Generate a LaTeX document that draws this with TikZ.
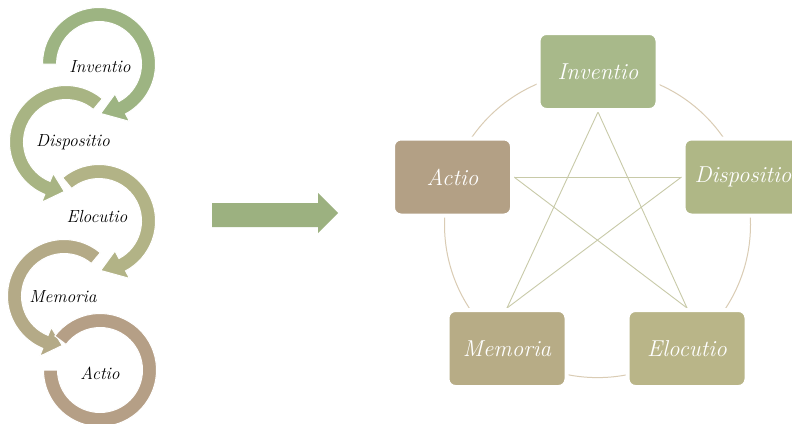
\documentclass[tikz,border=0pt]{standalone}
\usepackage{fontspec}
\setmainfont{Latin Modern Roman}
\usetikzlibrary{calc}
\pgfdeclarelayer{bg}
\pgfsetlayers{bg,main}
\definecolor{cInv}{HTML}{A8B98A}
\definecolor{cDis}{HTML}{AFB786}
\definecolor{cElo}{HTML}{B9B588}
\definecolor{cMem}{HTML}{B7AC86}
\definecolor{cAct}{HTML}{B3A085}
\definecolor{rInv}{HTML}{9DB482}
\definecolor{rDis}{HTML}{A8B483}
\definecolor{rElo}{HTML}{B2B386}
\definecolor{rMem}{HTML}{B4AA87}
\definecolor{rAct}{HTML}{B59F86}
\definecolor{cArrow}{HTML}{9CB180}
\definecolor{cCirc}{HTML}{DACCB4}
\definecolor{cStar}{HTML}{C8CAA8}
\newcommand\ringarrow[6]{% cx, cy, start, base, tip, colour
  \fill[#6, draw=white, line width=1pt]
    ([shift={(#1pt,#2pt)}]#3:56.5pt) arc[start angle=#3, end angle=#4, radius=56.5pt]
    -- ([shift={(#1pt,#2pt)}]#4:65pt)
    -- ([shift={(#1pt,#2pt)}]#5:49.5pt)
    -- ([shift={(#1pt,#2pt)}]#4:34pt)
    -- ([shift={(#1pt,#2pt)}]#4:42.5pt) arc[start angle=#4, end angle=#3, radius=42.5pt]
    -- cycle;}
\tikzset{
  lefttext/.style={font=\fontsize{17.5}{20}\selectfont\itshape, text=black, inner sep=0pt},
  rbox/.style={rounded corners=8pt, minimum width=119pt, minimum height=77pt,
    draw=white, line width=4pt, text=white, inner sep=0pt,
    font=\fontsize{23}{27}\selectfont\itshape},
  circline/.style={draw=cCirc, line width=1pt},
  starline/.style={draw=cStar, line width=0.9pt},
}
\begin{document}
\begin{tikzpicture}[x=1pt,y=1pt]
\useasboundingbox (0,0) rectangle (792,-423);
% left circular arrows
\ringarrow{99}{-64}{180}{-62}{-88}{rInv}
\ringarrow{66}{-142}{50}{248}{268}{rDis}
\ringarrow{99}{-221}{130}{-62}{-88}{rElo}
\ringarrow{64}{-296}{50}{248}{268}{rMem}
\fill[rAct, draw=white, line width=1pt]
  ([shift={(100pt,-370pt)}]143:56.5pt) arc[start angle=143, end angle=-180, radius=56.5pt]
  -- ([shift={(100pt,-370pt)}]-180:42.5pt) arc[start angle=-180, end angle=143, radius=42.5pt] -- cycle;
\node[lefttext] (tInv) at (100,-67) {Inventio};
\node[lefttext] (tDis) at (73,-142) {Dispositio};
\node[lefttext] (tElo) at (97,-217) {Elocutio};
\node[lefttext] (tMem) at (63,-297) {Memoria};
\node[lefttext] (tAct) at (100,-373) {Actio};
% big arrow
\fill[cArrow] (212,-203) -- (318,-203) -- (318,-193) -- (338,-213) -- (318,-233) -- (318,-227) -- (212,-227) -- cycle;
% right pentagon
\coordinate (cen) at (597.5,-224.6);
\node[rbox, fill=cInv] (inv) at (598,-71.5) {Inventio};
\node[rbox, fill=cDis] (dis) at (743,-177) {Dispositio};
\node[rbox, fill=cElo] (elo) at (687,-348.5) {Elocutio};
\node[rbox, fill=cMem] (mem) at (507,-348.5) {Memoria};
\node[rbox, fill=cAct] (act) at (452.5,-177) {Actio};
\begin{pgfonlayer}{bg}
\fill[white] (0,0) rectangle (792,-423);
\draw[circline] (cen) circle[radius=153pt];
\draw[starline] (inv.south) -- (mem.north);
\draw[starline] (inv.south) -- (elo.north);
\draw[starline] (act.east) -- (dis.west);
\draw[starline] (act.east) -- (elo.north);
\draw[starline] (dis.west) -- (mem.north);
\end{pgfonlayer}
\end{tikzpicture}
\end{document}
